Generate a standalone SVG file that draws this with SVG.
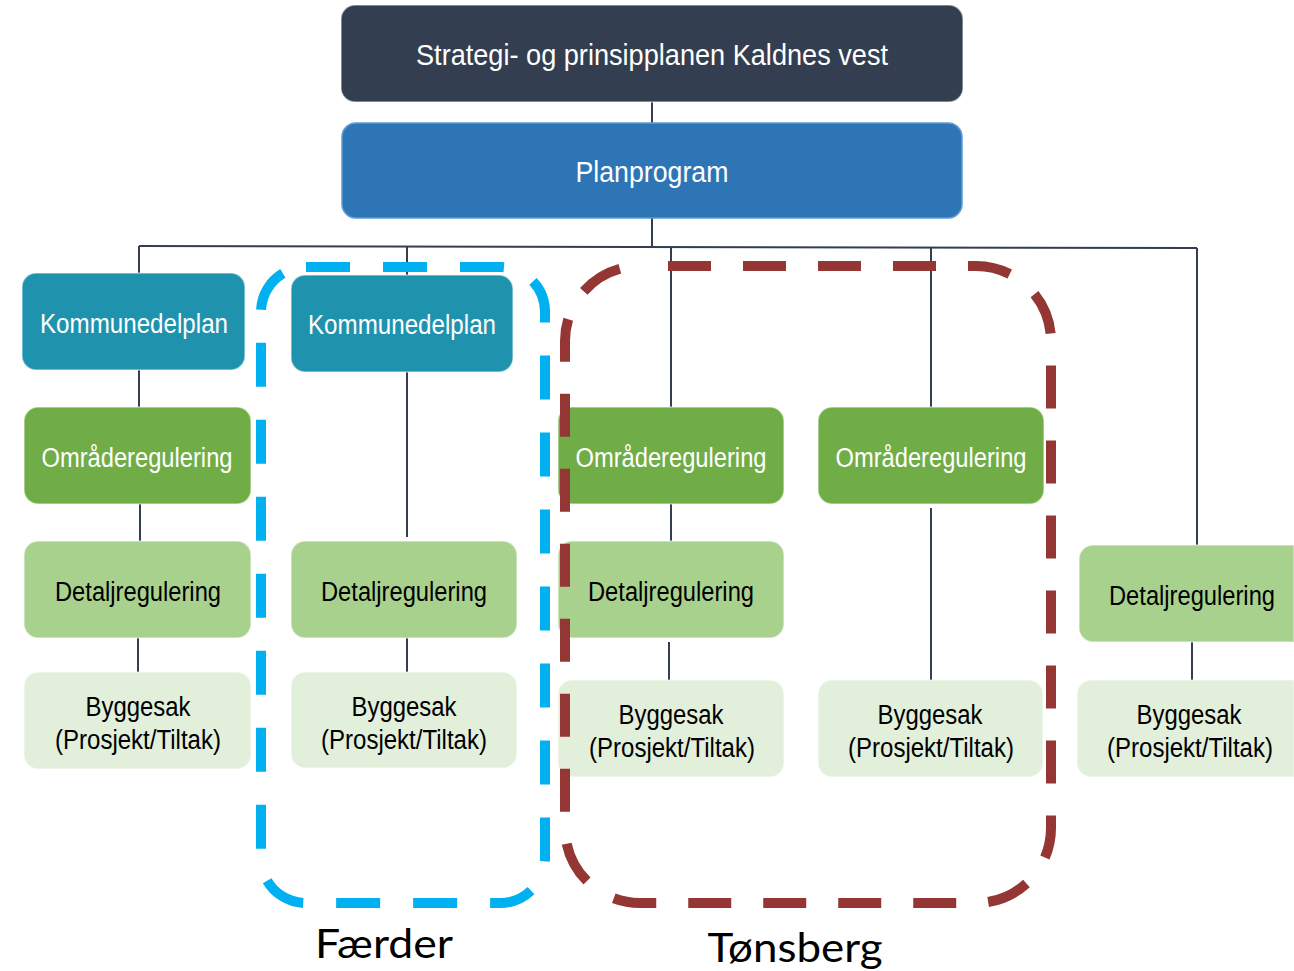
<svg xmlns="http://www.w3.org/2000/svg" width="1294" height="971" viewBox="0 0 1294 971">
<style>
.t{font-family:"Liberation Sans",Arial,sans-serif;text-anchor:middle}
.w{fill:#ffffff}
.k{fill:#000000}
.b{stroke:#ffffff;stroke-opacity:0.5;stroke-width:1.5}
.ln{stroke:#343E50;stroke-width:2;fill:none}
.lbl{font-family:Lato,"Open Sans",sans-serif;text-anchor:middle;fill:#000000}
</style>
<rect width="1294" height="971" fill="#ffffff"/>
<g id="connectors">
<line class="ln" x1="652" y1="102" x2="652" y2="123"/>
<line class="ln" x1="652" y1="218" x2="652" y2="246"/>
<line class="ln" x1="139" y1="246" x2="1197" y2="248"/>
<line class="ln" x1="139" y1="246" x2="139" y2="273"/>
<line class="ln" x1="407" y1="247" x2="407" y2="275"/>
<line class="ln" x1="671" y1="247" x2="671" y2="407"/>
<line class="ln" x1="931" y1="248" x2="931" y2="407"/>
<line class="ln" x1="1197" y1="248" x2="1197" y2="545"/>
<line class="ln" x1="139" y1="370" x2="139" y2="407"/>
<line class="ln" x1="140" y1="504" x2="140" y2="541"/>
<line class="ln" x1="138" y1="638" x2="138" y2="672"/>
<line class="ln" x1="407" y1="372" x2="407" y2="537"/>
<line class="ln" x1="407" y1="638" x2="407" y2="672"/>
<line class="ln" x1="671" y1="504" x2="671" y2="541"/>
<line class="ln" x1="669" y1="642" x2="669" y2="680"/>
<line class="ln" x1="931" y1="508" x2="931" y2="680"/>
<line class="ln" x1="1192" y1="642" x2="1192" y2="680"/>
</g>
<g id="strategi">
<rect x="341" y="5" width="622" height="97" rx="14" fill="#333F50" class="b"/>
<text class="t w" x="652" y="65" font-size="30" textLength="472" lengthAdjust="spacingAndGlyphs">Strategi- og prinsipplanen Kaldnes vest</text>
</g>
<g id="planprogram">
<rect x="342" y="123" width="620" height="95" rx="14" fill="#2E75B6" stroke="#5B9BD5" stroke-width="1.5"/>
<text class="t w" x="652" y="182" font-size="30" textLength="153" lengthAdjust="spacingAndGlyphs">Planprogram</text>
</g>
<g id="kdp1">
<rect x="22" y="273" width="223" height="97" rx="14" fill="#1F93AE" class="b"/>
<text class="t w" x="134" y="333" font-size="27" textLength="188" lengthAdjust="spacingAndGlyphs">Kommunedelplan</text>
</g>
<g id="kdp2">
<rect x="291" y="275" width="222" height="97" rx="14" fill="#1F93AE" class="b"/>
<text class="t w" x="402" y="334" font-size="27" textLength="188" lengthAdjust="spacingAndGlyphs">Kommunedelplan</text>
</g>
<g id="omr1">
<rect x="24" y="407" width="227" height="97" rx="14" fill="#70AD47" class="b"/>
<text class="t w" x="137" y="467" font-size="27" textLength="191" lengthAdjust="spacingAndGlyphs">Områderegulering</text>
</g>
<g id="omr3">
<rect x="558" y="407" width="226" height="97" rx="14" fill="#70AD47" class="b"/>
<text class="t w" x="671" y="467" font-size="27" textLength="191" lengthAdjust="spacingAndGlyphs">Områderegulering</text>
</g>
<g id="omr4">
<rect x="818" y="407" width="226" height="97" rx="14" fill="#70AD47" class="b"/>
<text class="t w" x="931" y="467" font-size="27" textLength="191" lengthAdjust="spacingAndGlyphs">Områderegulering</text>
</g>
<g id="det1">
<rect x="24" y="541" width="227" height="97" rx="14" fill="#A9D18E" class="b"/>
<text class="t k" x="138" y="601" font-size="27" textLength="166" lengthAdjust="spacingAndGlyphs">Detaljregulering</text>
</g>
<g id="det2">
<rect x="291" y="541" width="226" height="97" rx="14" fill="#A9D18E" class="b"/>
<text class="t k" x="404" y="601" font-size="27" textLength="166" lengthAdjust="spacingAndGlyphs">Detaljregulering</text>
</g>
<g id="det3">
<rect x="558" y="541" width="226" height="97" rx="14" fill="#A9D18E" class="b"/>
<text class="t k" x="671" y="601" font-size="27" textLength="166" lengthAdjust="spacingAndGlyphs">Detaljregulering</text>
</g>
<g id="det5">
<path d="M1093,545 H1294 V642 H1093 A14,14 0 0 1 1079,628 V559 A14,14 0 0 1 1093,545 Z" fill="#A9D18E" class="b"/>
<text class="t k" x="1192" y="605" font-size="27" textLength="166" lengthAdjust="spacingAndGlyphs">Detaljregulering</text>
</g>
<g id="bygg1">
<rect x="24" y="672" width="227" height="97" rx="14" fill="#E2EFDA" class="b"/>
<text class="t k" x="138" y="716" font-size="27" textLength="105" lengthAdjust="spacingAndGlyphs">Byggesak</text>
<text class="t k" x="138" y="749" font-size="27" textLength="166" lengthAdjust="spacingAndGlyphs">(Prosjekt/Tiltak)</text>
</g>
<g id="bygg2">
<rect x="291" y="672" width="226" height="96" rx="14" fill="#E2EFDA" class="b"/>
<text class="t k" x="404" y="716" font-size="27" textLength="105" lengthAdjust="spacingAndGlyphs">Byggesak</text>
<text class="t k" x="404" y="749" font-size="27" textLength="166" lengthAdjust="spacingAndGlyphs">(Prosjekt/Tiltak)</text>
</g>
<g id="bygg3">
<rect x="558" y="680" width="226" height="97" rx="14" fill="#E2EFDA" class="b"/>
<text class="t k" x="671" y="724" font-size="27" textLength="105" lengthAdjust="spacingAndGlyphs">Byggesak</text>
<text class="t k" x="672" y="757" font-size="27" textLength="166" lengthAdjust="spacingAndGlyphs">(Prosjekt/Tiltak)</text>
</g>
<g id="bygg4">
<rect x="818" y="680" width="225" height="97" rx="14" fill="#E2EFDA" class="b"/>
<text class="t k" x="930" y="724" font-size="27" textLength="105" lengthAdjust="spacingAndGlyphs">Byggesak</text>
<text class="t k" x="931" y="757" font-size="27" textLength="166" lengthAdjust="spacingAndGlyphs">(Prosjekt/Tiltak)</text>
</g>
<g id="bygg5">
<path d="M1091,680 H1294 V777 H1091 A14,14 0 0 1 1077,763 V694 A14,14 0 0 1 1091,680 Z" fill="#E2EFDA" class="b"/>
<text class="t k" x="1189" y="724" font-size="27" textLength="105" lengthAdjust="spacingAndGlyphs">Byggesak</text>
<text class="t k" x="1190" y="757" font-size="27" textLength="166" lengthAdjust="spacingAndGlyphs">(Prosjekt/Tiltak)</text>
</g>
<g id="faerder">
<rect x="261" y="267" width="284" height="636" rx="45" fill="none" stroke="#00B0F0" stroke-width="10" stroke-dasharray="44 33"/>
<text class="lbl" x="384" y="958" font-size="40" textLength="138" lengthAdjust="spacingAndGlyphs">Færder</text>
</g>
<g id="tonsberg">
<rect x="565" y="266" width="486" height="637" rx="75" fill="none" stroke="#943634" stroke-width="10" stroke-dasharray="43 32" stroke-dashoffset="47"/>
<text class="lbl" x="795" y="962" font-size="41" textLength="175" lengthAdjust="spacingAndGlyphs">Tønsberg</text>
</g>
</svg>
